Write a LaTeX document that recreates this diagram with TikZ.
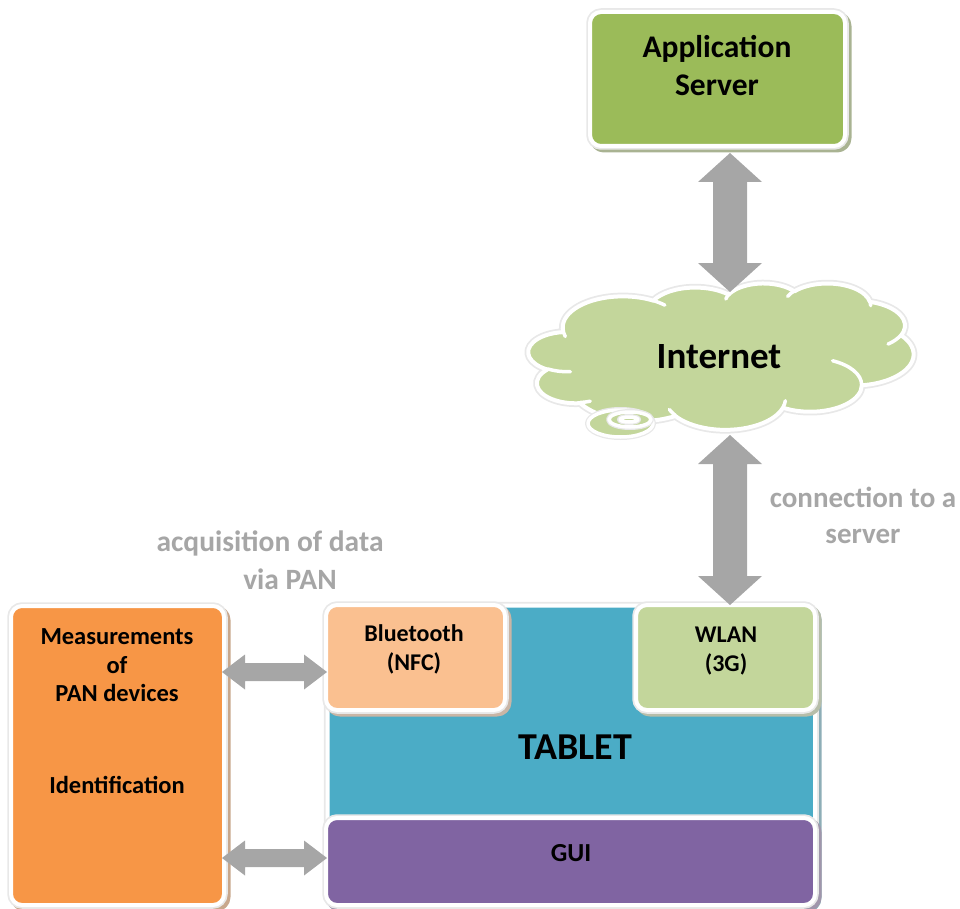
\documentclass[tikz,border=0pt]{standalone}
\usepackage{fontspec}
\setmainfont{Carlito}
\usetikzlibrary{calc}

\definecolor{servergreen}{HTML}{9BBB59}
\definecolor{palegreen}{HTML}{C3D69B}
\definecolor{tealblue}{HTML}{4BACC6}
\definecolor{peach}{HTML}{FAC090}
\definecolor{guiviolet}{HTML}{8064A2}
\definecolor{pumpkin}{HTML}{F79646}
\definecolor{arrowgray}{HTML}{A6A6A6}
\definecolor{rimgray}{HTML}{E8E8E8}

% elliptical arc given by radii, start direction and sweep (directions measured as seen)
\newcommand\ovalarc[4]{arc[x radius=#1, y radius=#2,
  start angle={atan2(#1*sin(#3),#2*cos(#3))},
  delta angle={mod(atan2(#1*sin(#3+#4),#2*cos(#3+#4))-atan2(#1*sin(#3),#2*cos(#3))+720,360)}]}

% vertical double block arrow: top tip, bottom tip
\newcommand\vblock[2]{%
  \fill[arrowgray] (#1) -- ++(32,29) -- ++(-15,0) -- ($(#2)+(17,-29)$) -- ++(15,0)
    -- (#2) -- ++(-32,-29) -- ++(15,0) -- ($(#1)+(-17,29)$) -- ++(-15,0) -- cycle;}
% horizontal double block arrow: left tip, right tip
\newcommand\hblock[2]{%
  \fill[arrowgray] (#1) -- ++(23,-17.5) -- ++(0,8.5) -- ($(#2)+(-23,-9)$) -- ++(0,-8.5)
    -- (#2) -- ++(-23,17.5) -- ++(0,-8.5) -- ($(#1)+(23,9)$) -- ++(0,8.5) -- cycle;}

\tikzset{
  panel/.style={rounded corners=11, fill=#1, draw=white, line width=4,
    preaction={draw=#1!45!gray!75!white, fill=#1!45!gray!75!white, line width=7,
      transform canvas={shift={(3pt,-3pt)}}},
    preaction={draw=rimgray, line width=7.5},
    inner sep=0, outer sep=0},
  txt/.style 2 args={font=\fontsize{#1}{#2}\selectfont\bfseries,
    align=center, inner sep=0},
  bubble/.style={fill=palegreen, draw=white, line width=3.5,
    preaction={draw=rimgray, line width=6}},
}

\begin{document}
\begin{tikzpicture}[x=1pt, y=-1pt, line join=round]
\useasboundingbox (0,0) rectangle (960,909);

% helper coordinates for the connectors
\coordinate (axis) at (730,0);
\coordinate (h1) at (0,672);
\coordinate (h2) at (0,858);
\coordinate (cloudtop) at (730,292);
\coordinate (cloudbottom) at (730,435);

% tablet with its modules
\node[panel=tealblue, minimum width=487.5, minimum height=300.5] (tab) at (571.25,755.75) {};
\node[panel=peach, minimum width=179, minimum height=105] (bt) at (415.5,657.5) {};
\node[panel=palegreen, minimum width=179, minimum height=105] (wl) at (725.5,657.5) {};
\node[panel=guiviolet, minimum width=489, minimum height=87] (gui) at (570.5,861.5) {};

% PAN devices
\node[panel=pumpkin, minimum width=213, minimum height=299] (org) at (117.5,755.5) {};

% application server
\node[panel=servergreen, minimum width=255, minimum height=134] (srv) at (717.5,79) {};

% internet cloud
\begin{scope}[shift={(528.5,283)}, x=0.008916pt, y=-0.00338pt]
  \path[fill=palegreen, draw=white, line width=4, preaction={draw=rimgray, line width=7.5}]
    (3900,14370)
    \ovalarc{6753}{9190}{-190.4875}{123.7805}
    \ovalarc{5333}{7267}{-144.1024}{89.9452}
    \ovalarc{4365}{5945}{-145.8079}{99.7230}
    \ovalarc{4857}{6595}{-130.9861}{117.2417}
    \ovalarc{5333}{7273}{-78.7089}{109.0269}
    \ovalarc{6775}{9220}{-46.2673}{130.2690}
    \ovalarc{5785}{7867}{0.6250}{114.0333}
    \ovalarc{6752}{9215}{22.4516}{115.1726}
    \ovalarc{7720}{10543}{66.2426}{75.7110}
    \ovalarc{4360}{5918}{-274.9421}{146.7356}
    \ovalarc{4345}{5945}{-246.8285}{152.5189}
    -- cycle;
  \draw[white, line width=3.5, line cap=round]
    (4693,26177) \ovalarc{4345}{5945}{86.7420}{26.4295}
    (6928,34899) \ovalarc{4360}{5918}{73.6105}{11.4475}
    (16478,39090) \ovalarc{6752}{9215}{137.6242}{14.0811}
    (28827,34751) \ovalarc{6752}{9215}{6.4533}{15.9984}
    (34129,22954) \ovalarc{5785}{7867}{-70.2924}{70.9174}
    (41798,15354) \ovalarc{5333}{7273}{30.3180}{27.7515}
    (38324,5426) \ovalarc{4857}{6595}{-13.7443}{14.8589}
    (29078,3952) \ovalarc{4857}{6595}{-149.1815}{18.1954}
    (22141,4720) \ovalarc{4365}{5945}{-163.4943}{17.6864}
    (14000,5192) \ovalarc{6753}{9190}{-66.7070}{12.3194}
    (4127,15789) \ovalarc{6753}{9190}{157.6544}{11.8582};
\end{scope}
\path[bubble] (620.5,423.5) ellipse[x radius=32.5, y radius=13.5];
\path[bubble] (630,419.5) ellipse[x radius=21, y radius=7.5];
\path[bubble] (629,419.5) ellipse[x radius=9, y radius=2.5];

% texts
\node[txt={31.5}{38}] (srvtext) at (717,66) {Application\\Server};
\node[txt={37}{44}] (inet) at (719,357) {Internet};
\node[txt={29}{36}, text=arrowgray] (conn) at (863,515) {connection to a\\server};
\node[txt={29.5}{36}, text=arrowgray] (acq1) at (270,543) {acquisition of data};
\node[txt={29.5}{36}, text=arrowgray] (acq2) at (290,579) {via PAN};
\node[txt={24}{29}] (bttext) at (414,649.5) {Bluetooth\\(NFC)};
\node[txt={24}{29}] (wltext) at (726,651) {WLAN\\(3G)};
\node[txt={38}{44}] (tabtext) at (575,747) {TABLET};
\node[txt={26}{29}] (guitext) at (571,853) {GUI};
\node[txt={24.5}{28.5}] (meas) at (117,665.5) {Measurements\\of\\PAN devices};
\node[txt={24.5}{29}] (ident) at (117,785) {Identification};

% connectors
\coordinate (a1) at ($(srv.south -| axis)+(0,7)$);
\coordinate (a2) at (wl.north -| axis);
\coordinate (b1) at ($(org.east |- h1)+(-2,0)$);
\coordinate (b2) at ($(bt.west |- h1)+(1,0)$);
\coordinate (c1) at ($(org.east |- h2)+(-2,0)$);
\coordinate (c2) at ($(gui.west |- h2)+(1,0)$);
\vblock{a1}{cloudtop}
\vblock{cloudbottom}{a2}
\hblock{b1}{b2}
\hblock{c1}{c2}
\end{tikzpicture}
\end{document}
